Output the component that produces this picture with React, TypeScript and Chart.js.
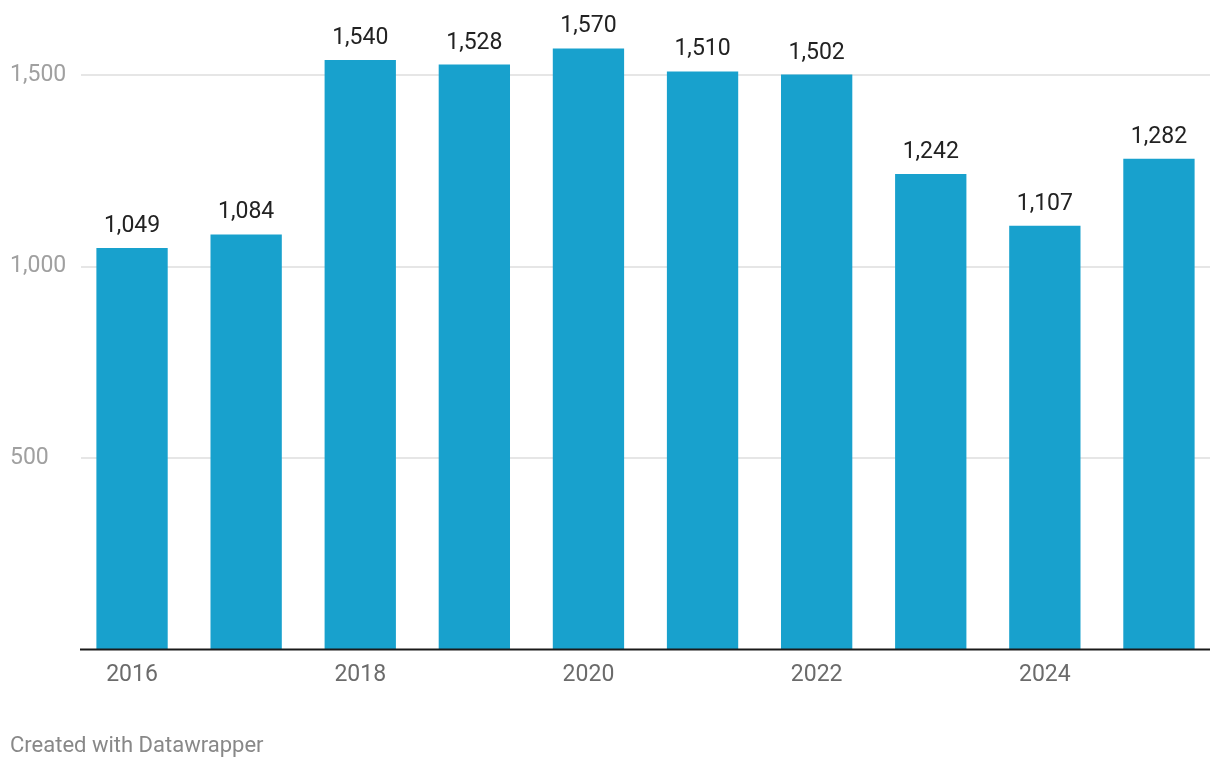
import React, { useEffect, useRef } from "react";
import { Chart, registerables } from "chart.js";

Chart.register(...registerables);

const years = ["2016", "2017", "2018", "2019", "2020", "2021", "2022", "2023", "2024", "2025"];
const values = [1049, 1084, 1540, 1528, 1570, 1510, 1502, 1242, 1107, 1282];
const yTicks = [500, 1000, 1500];
const footerText = "Created with Datawrapper";

const FONT = "Roboto, 'Noto Sans', sans-serif";

export default function App() {
  const ref = useRef<HTMLCanvasElement | null>(null);

  useEffect(() => {
    if (!ref.current) return;

    const decor = {
      id: "decor",
      beforeDatasetsDraw(chart: any) {
        const { ctx, chartArea, scales } = chart;
        const y = scales.y;
        ctx.save();
        ctx.strokeStyle = "#e6e6e6";
        ctx.lineWidth = 2;
        yTicks.forEach((v) => {
          const py = Math.round(y.getPixelForValue(v));
          ctx.beginPath();
          ctx.moveTo(chartArea.left + 6, py);
          ctx.lineTo(chartArea.right - 6, py);
          ctx.stroke();
        });
        ctx.restore();
      },
      afterDatasetsDraw(chart: any) {
        const { ctx, chartArea, scales } = chart;
        const y = scales.y;
        ctx.save();
        ctx.strokeStyle = "#1a1a1a";
        ctx.lineWidth = 2;
        const py = y.getPixelForValue(0);
        ctx.beginPath();
        ctx.moveTo(chartArea.left + 5, py);
        ctx.lineTo(chartArea.right - 6, py);
        ctx.stroke();

        const meta = chart.getDatasetMeta(0);
        ctx.fillStyle = "#222222";
        ctx.font = `23px ${FONT}`;
        ctx.textAlign = "center";
        ctx.textBaseline = "alphabetic";
        meta.data.forEach((bar: any, i: number) => {
          ctx.fillText(values[i].toLocaleString("en-US"), bar.x, bar.y - 16);
        });

        ctx.fillStyle = "#888888";
        ctx.font = `22px ${FONT}`;
        ctx.textAlign = "left";
        ctx.textBaseline = "middle";
        ctx.fillText(footerText, 10, 746);
        ctx.restore();
      },
    };

    const chart = new Chart(ref.current, {
      type: "bar",
      data: {
        labels: years,
        datasets: [
          {
            data: values,
            backgroundColor: "#18a1cd",
            borderWidth: 0,
            barPercentage: 0.625,
            categoryPercentage: 1,
          },
        ],
      },
      options: {
        animation: false,
        responsive: true,
        maintainAspectRatio: false,
        layout: { padding: { left: 10, right: 4, top: 37, bottom: 69 } },
        plugins: { legend: { display: false }, tooltip: { enabled: false } },
        scales: {
          x: {
            grid: { display: false, drawTicks: false },
            border: { display: false },
            ticks: {
              autoSkip: false,
              maxRotation: 0,
              padding: 12,
              color: "#6b6b6b",
              font: { family: FONT, size: 23 },
              callback: (_v: any, i: number) => (i % 2 === 0 ? years[i] : ""),
            },
          },
          y: {
            min: 0,
            max: 1600,
            grid: { display: false, drawTicks: false },
            border: { display: false },
            afterFit: (scale: any) => {
              scale.width = 65;
            },
            afterBuildTicks: (scale: any) => {
              scale.ticks = yTicks.map((v) => ({ value: v }));
            },
            ticks: {
              crossAlign: "far",
              color: "#a0a0a0",
              font: { family: FONT, size: 23 },
              callback: (v: any) => Number(v).toLocaleString("en-US"),
            },
          },
        },
      },
      plugins: [decor],
    });

    return () => chart.destroy();
  }, []);

  return (
    <div style={{ position: "absolute", left: 0, top: 0, width: 1220, height: 770, background: "#fff" }}>
      <canvas ref={ref} />
    </div>
  );
}
